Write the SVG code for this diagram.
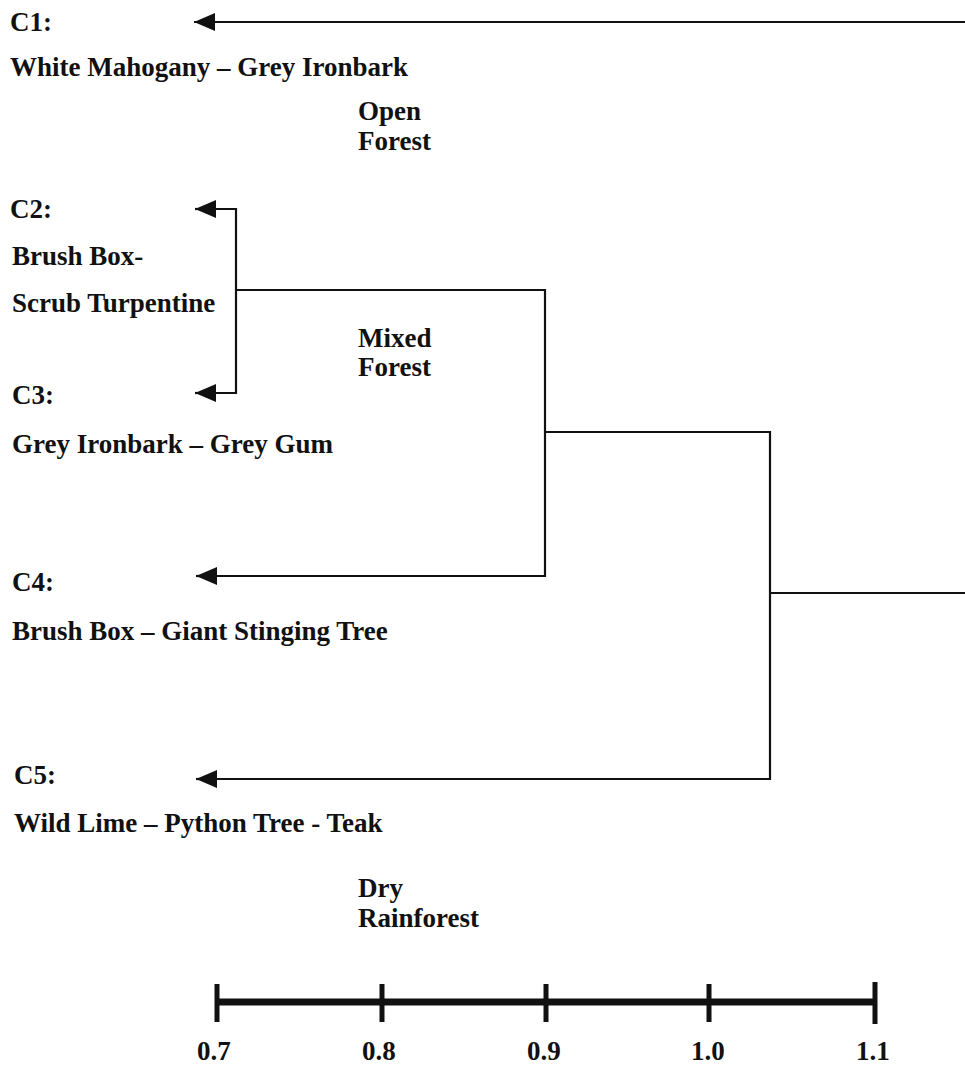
<svg xmlns="http://www.w3.org/2000/svg" width="965" height="1068" viewBox="0 0 965 1068">
<style>
text{font-family:"Liberation Serif","Times New Roman",serif;font-weight:bold;font-size:27px;fill:#111}
.ln{fill:none;stroke:#111;stroke-width:2.2}
.ax{fill:none;stroke:#111;stroke-width:7}
.tk{fill:none;stroke:#111;stroke-width:5}
</style>
<defs>
<marker id="ah" markerUnits="userSpaceOnUse" markerWidth="22" markerHeight="20" refX="21" refY="10" orient="auto" viewBox="0 0 22 20">
<path d="M0,1 L21,10 L0,19 Z" fill="#111"/>
</marker>
</defs>
<rect width="965" height="1068" fill="#fff"/>
<g id="connectors">
<path class="ln" d="M965,22 H194" marker-end="url(#ah)"/>
<path class="ln" d="M215,209 H236 V393 H215"/>
<path class="ln" d="M215,209 H195" marker-end="url(#ah)"/>
<path class="ln" d="M215,393 H195" marker-end="url(#ah)"/>
<path class="ln" d="M236,290 H545 V576 H216"/>
<path class="ln" d="M216,576 H196" marker-end="url(#ah)"/>
<path class="ln" d="M545,432 H770 V779 H216"/>
<path class="ln" d="M216,779 H196" marker-end="url(#ah)"/>
<path class="ln" d="M770,593 H965"/>
</g>
<g id="C1"><text x="10" y="31">C1:</text><text x="10" y="76">White Mahogany – Grey Ironbark</text></g>
<g id="open-forest"><text x="358" y="120">Open</text><text x="358" y="150">Forest</text></g>
<g id="C2"><text x="10" y="218">C2:</text><text x="12" y="265">Brush Box-</text><text x="12" y="312">Scrub Turpentine</text></g>
<g id="mixed-forest"><text x="358" y="347">Mixed</text><text x="358" y="376">Forest</text></g>
<g id="C3"><text x="12" y="404">C3:</text><text x="12" y="453">Grey Ironbark – Grey Gum</text></g>
<g id="C4"><text x="12" y="591">C4:</text><text x="12" y="640">Brush Box – Giant Stinging Tree</text></g>
<g id="C5"><text x="14" y="784">C5:</text><text x="14" y="832">Wild Lime – Python Tree - Teak</text></g>
<g id="dry-rainforest"><text x="358" y="897">Dry</text><text x="358" y="927">Rainforest</text></g>
<g id="scale">
<path class="ax" d="M217,1002 H875"/>
<path class="tk" d="M217,984 V1022 M382,984 V1022 M546,984 V1022 M709,984 V1022 M875,982 V1024"/>
<text x="197" y="1060">0.7</text><text x="362" y="1060">0.8</text><text x="527" y="1060">0.9</text><text x="691" y="1060">1.0</text><text x="856" y="1060">1.1</text>
</g>
</svg>
